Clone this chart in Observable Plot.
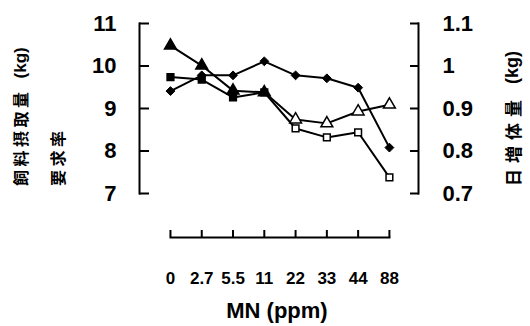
<!DOCTYPE html>
<html><head><meta charset="utf-8">
<script src="https://cdn.jsdelivr.net/npm/d3@7"></script>
<script src="https://cdn.jsdelivr.net/npm/@observablehq/plot@0.6"></script>
<style>body{margin:0;background:#fff} #chart svg{display:block}</style>
</head><body><div id="chart"></div>
<script>
const doses = ["0","2.7","5.5","11","22","33","44","88"];
const conversion = [10.48,10.01,9.42,9.38,8.74,8.65,8.93,9.09]; // 要求率 (triangles, left axis)
const intake = [9.74,9.68,9.26,9.38,8.53,8.32,8.44,7.38];      // 飼料摂取量 (squares, left axis)
const gain = [0.941,0.978,0.978,1.011,0.978,0.971,0.949,0.808]; // 日増体量 (diamonds, right axis)
const leftTicks = [7,8,9,10,11];
const rightTicks = [0.7,0.8,0.9,1,1.1];
const openFrom = 4; // hollow markers from 22 ppm on

const toLeft = d3.scaleLinear([0.7,1.1],[7,11]);
const rows = doses.map((d,i)=>({i, dose:d, conversion:conversion[i], intake:intake[i],
  gain:toLeft(gain[i]), fill: i>=openFrom ? "white" : "black"}));
const idx = doses.map((d,i)=>i);

const plot = Plot.plot({
  width:530, height:326,
  marginLeft:139, marginRight:112, marginTop:23, marginBottom:89,
  style:{fontFamily:"'Liberation Sans', Arial, sans-serif", fontWeight:"bold", background:"white", color:"black"},
  x:{domain:[-0.99,7.93], range:[139,418]},
  y:{domain:[7,11], range:[193,23]},
  marks:[
    Plot.frame({anchor:"left", insetBottom:44, strokeWidth:2}),
    Plot.frame({anchor:"right", insetBottom:44, strokeWidth:2}),
    Plot.frame({anchor:"bottom", insetLeft:31, insetRight:29, strokeWidth:2}),
    Plot.axisY({anchor:"left", ticks:leftTicks, tickSize:-10, tickPadding:33, strokeWidth:2, fontSize:22, label:null, tickFormat:d=>String(d)}),
    Plot.axisY({anchor:"right", ticks:rightTicks.map(toLeft), tickSize:-9, tickPadding:33, strokeWidth:2, fontSize:22, label:null,
      tickFormat:v=>String(+toLeft.invert(v).toFixed(1))}),
    Plot.axisX({anchor:"bottom", ticks:idx, tickSize:-7, tickPadding:41, strokeWidth:2, fontSize:17, label:null,
      tickFormat:i=>doses[i]}),
    Plot.line(rows,{x:"i", y:"conversion", stroke:"black", strokeWidth:2}),
    Plot.line(rows,{x:"i", y:"intake", stroke:"black", strokeWidth:2}),
    Plot.line(rows,{x:"i", y:"gain", stroke:"black", strokeWidth:2}),
    Plot.dot(rows,{x:"i", y:"conversion", symbol:"triangle", r:4.4, fill:"fill", stroke:"black", strokeWidth:1.5}),
    Plot.dot(rows,{x:"i", y:"intake", symbol:"square", r:3.8, fill:"fill", stroke:"black", strokeWidth:1.5}),
    Plot.dot(rows,{x:"i", y:"gain", symbol:"diamond2", r:4, fill:"black", stroke:"black", strokeWidth:1})
  ]
});

const svg = d3.select(plot);
const cjk = "'Noto Sans CJK JP', 'Noto Sans CJK SC', sans-serif";
const latin = "'Liberation Sans', Arial, sans-serif";
function vlabel(x, y, txt, size, ls, unit, unitSize, gap){
  const t = svg.append("text").attr("transform",`translate(${x},${y}) rotate(-90)`)
    .attr("text-anchor","start").attr("dominant-baseline","central")
    .attr("font-weight","bold").attr("fill","black");
  t.append("tspan").attr("font-family",cjk).attr("font-size",size).attr("letter-spacing",ls).text(txt);
  if (unit) t.append("tspan").attr("font-family",latin).attr("font-size",unitSize).attr("dx",gap).text(unit);
}
vlabel(20,186,"飼料摂取量",16,3.5,"(kg)",17,10);
vlabel(57,186,"要求率",16,3.5);
vlabel(512,186,"日増体量",17,6,"(kg)",18,10);
svg.append("text").attr("x",277).attr("y",318).attr("text-anchor","middle")
  .attr("font-family",latin).attr("font-size",22)
  .attr("fill","black").text("MN (ppm)");
document.getElementById("chart").appendChild(plot);
</script>
</body></html>
